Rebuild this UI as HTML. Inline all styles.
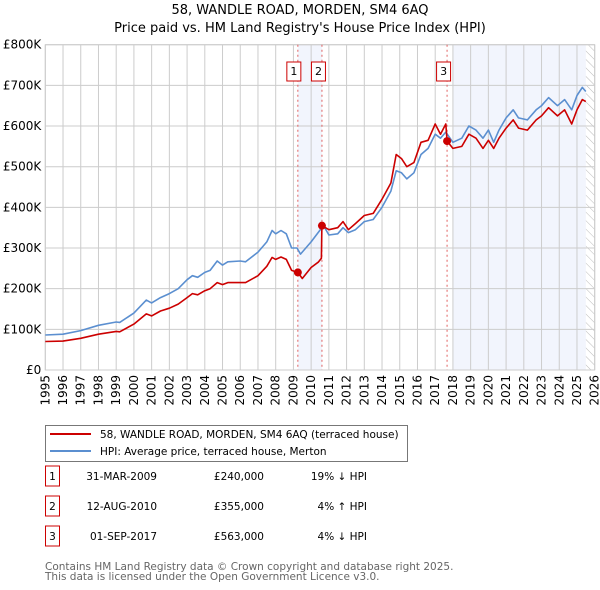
<!DOCTYPE html>
<html><head><meta charset="utf-8"><style>
body{margin:0;background:#fff;font-family:"DejaVu Sans","Liberation Sans",sans-serif;}
#wrap{position:relative;width:600px;height:590px;overflow:hidden;}
</style></head><body>
<div id="wrap">
<svg id="svg" width="600" height="590" xmlns="http://www.w3.org/2000/svg" font-family="DejaVu Sans, Liberation Sans, sans-serif">
<text x="300" y="14" text-anchor="middle" font-size="13" fill="#000">58, WANDLE ROAD, MORDEN, SM4 6AQ</text>
<text x="300" y="32" text-anchor="middle" font-size="13" fill="#000">Price paid vs. HM Land Registry's House Price Index (HPI)</text>
<g id="plot"></g>
<g>
<rect x="45.5" y="425.5" width="362" height="36" fill="#fff" stroke="#777"/>
<line x1="50" y1="434" x2="91" y2="434" stroke="#cc0000" stroke-width="2"/>
<text x="100" y="438" font-size="10.5">58, WANDLE ROAD, MORDEN, SM4 6AQ (terraced house)</text>
<line x1="50" y1="451" x2="91" y2="451" stroke="#5b8fd0" stroke-width="2"/>
<text x="100" y="455" font-size="10.5">HPI: Average price, terraced house, Merton</text>
</g>
<g id="table" font-size="10.5"></g>
<text x="45" y="570" font-size="10.5" fill="#666">Contains HM Land Registry data © Crown copyright and database right 2025.</text>
<text x="45" y="580" font-size="10.5" fill="#666">This data is licensed under the Open Government Licence v3.0.</text>
</svg>
</div>
<script>
const hpiYears=[1995,1996,1997,1998,1999,1999.2,2000,2000.7,2001,2001.5,2002,2002.5,2003,2003.3,2003.6,2004,2004.3,2004.7,2005,2005.3,2006,2006.3,2007,2007.5,2007.8,2008,2008.3,2008.6,2008.9,2009.2,2009.4,2010.0,2010.5,2010.7,2011,2011.5,2011.8,2012.1,2012.5,2013,2013.5,2014,2014.5,2014.8,2015.1,2015.4,2015.8,2016.2,2016.6,2017.0,2017.3,2017.6,2018.0,2018.5,2018.9,2019.3,2019.7,2020.0,2020.3,2020.6,2021.0,2021.4,2021.7,2022.2,2022.7,2023.0,2023.4,2023.9,2024.3,2024.7,2025.0,2025.3,2025.5];
const hpiValues=[86,88,97,110,118,117,140,172,165,178,188,200,222,232,228,240,245,268,258,266,268,266,290,315,343,335,343,335,300,300,285,315,344,355,332,335,350,338,345,365,370,400,440,490,485,470,485,530,545,580,570,585,560,570,600,590,570,590,560,590,620,640,620,615,640,650,670,650,665,640,675,695,685];
const ppYears=[1995,1996,1997,1998,1999,1999.2,2000,2000.7,2001,2001.5,2002,2002.5,2003,2003.3,2003.6,2004,2004.3,2004.7,2005,2005.3,2006,2006.3,2007,2007.5,2007.8,2008,2008.3,2008.6,2008.9,2009.25,2009.5,2010.0,2010.4,2010.58,2010.61,2011,2011.5,2011.8,2012.1,2012.5,2013,2013.5,2014,2014.5,2014.8,2015.1,2015.4,2015.8,2016.2,2016.6,2017.0,2017.3,2017.6,2017.67,2018.0,2018.5,2018.9,2019.3,2019.7,2020.0,2020.3,2020.6,2021.0,2021.4,2021.7,2022.2,2022.7,2023.0,2023.4,2023.9,2024.3,2024.7,2025.0,2025.3,2025.5];
const ppValues=[70,71,78,88,95,94,113,138,133,145,152,162,178,188,185,195,200,215,210,215,215,215,232,255,277,272,278,272,245,240,225,252,265,275,355,345,350,365,345,360,380,385,420,460,530,520,500,510,560,565,605,580,605,563,545,550,580,570,545,565,545,570,595,615,595,590,615,625,645,625,640,605,640,665,660];
const saleLabels=["1","2","3"];
const saleYears=[2009.25,2010.61,2017.67];
const saleValues=[240,355,563];
const saleDates=["31-MAR-2009","12-AUG-2010","01-SEP-2017"];
const salePrices=["£240,000","£355,000","£563,000"];
const saleDiffs=["19% ↓ HPI","4% ↑ HPI","4% ↓ HPI"];
const yTicks=[0,100,200,300,400,500,600,700,800];
const yTickLabels=["£0","£100K","£200K","£300K","£400K","£500K","£600K","£700K","£800K"];
const xTicks=[1995,1996,1997,1998,1999,2000,2001,2002,2003,2004,2005,2006,2007,2008,2009,2010,2011,2012,2013,2014,2015,2016,2017,2018,2019,2020,2021,2022,2023,2024,2025,2026];

const NS="http://www.w3.org/2000/svg";
const X0=45.3,X1=594.7,Y0=370,Y1=44.7;
const xs=y=>X0+(y-1995)/31*(X1-X0);
const ys=v=>Y0-v/800*(Y0-Y1);
const plot=document.getElementById('plot');
function mk(tag,attrs,parent){const e=document.createElementNS(NS,tag);for(const k in attrs)e.setAttribute(k,attrs[k]);(parent||plot).appendChild(e);return e;}
let s=mk('rect',{x:xs(saleYears[0]),y:Y1,width:xs(saleYears[1])-xs(saleYears[0]),height:Y0-Y1,fill:'#f2f5fd'});


s=mk('rect',{x:xs(2018),y:Y1,width:xs(2025.5)-xs(2018),height:Y0-Y1,fill:'#f2f5fd'});


const defs=mk('defs',{});
const pat=mk('pattern',{id:'hatch',width:6,height:6,patternUnits:'userSpaceOnUse',patternTransform:'rotate(-45)'},defs);
mk('line',{x1:0,y1:0,x2:0,y2:6,stroke:'#bbb','stroke-width':1},pat);
s=mk('rect',{x:xs(2025.5),y:Y1,width:X1-xs(2025.5),height:Y0-Y1,fill:'url(#hatch)'});


yTicks.forEach((t,i)=>{
 const l=mk('line',{x1:X0,x2:X1,y1:ys(t),y2:ys(t),stroke:'#ccc','stroke-width':1});
 
 
 const tx=mk('text',{x:X0-4,y:ys(t)+4,'text-anchor':'end','font-size':12});
 tx.textContent=yTickLabels[i];
 
 
});
xTicks.forEach(t=>{
 const l=mk('line',{x1:xs(t),x2:xs(t),y1:Y1,y2:Y0,stroke:'#ccc','stroke-width':1});
 
 
 const tx=mk('text',{x:0,y:0,'text-anchor':'end','font-size':12,transform:`translate(${xs(t)+4},${Y0+5}) rotate(-90)`});
 tx.textContent=t;
 
 
});
let b=mk('rect',{x:X0,y:Y1,width:X1-X0,height:Y0-Y1,fill:'none',stroke:'#ccc'});


saleYears.forEach((y,i)=>{
 const l=mk('line',{x1:xs(y),x2:xs(y),y1:Y1,y2:Y0,stroke:'#e06060','stroke-width':1,'stroke-dasharray':'2,3'});
 
 
});
function path(xa,va,color,name){
 const d=xa.map((x,i)=>(i?'L':'M')+xs(x).toFixed(1)+','+ys(va[i]).toFixed(1)).join('');
 const p=mk('path',{d:d,fill:'none',stroke:color,'stroke-width':1.6,'stroke-linejoin':'round'});
 
 
}
path(hpiYears,hpiValues,'#5b8fd0','hpi-line');
path(ppYears,ppValues,'#cc0000','price-paid-line');
const boxOff=[-11,-10.5,-10.5];
saleYears.forEach((y,i)=>{
 const c=mk('circle',{cx:xs(y),cy:ys(saleValues[i]),r:4,fill:'#cc0000'});
 
 
 const g=mk('g',{});
 
 
 const bx=xs(y)+boxOff[i];
 mk('rect',{x:bx,y:62,width:14,height:19,fill:'#fff',stroke:'#cc0000'},g);
 const t=mk('text',{x:bx+7,y:75,'text-anchor':'middle','font-size':11},g);
 t.textContent=saleLabels[i];
});
const tb=document.getElementById('table');
saleLabels.forEach((l,i)=>{
 const y=476+i*30;
 const g=mk('g',{},tb);
 
 
 mk('rect',{x:45.5,y:y-10,width:14,height:20,fill:'#fff',stroke:'#cc0000'},g);
 let t=mk('text',{x:52.5,y:y+4,'text-anchor':'middle'},g);t.textContent=l;
 t=mk('text',{x:157,y:y+4,'text-anchor':'end'},g);t.textContent=saleDates[i];
 t=mk('text',{x:264,y:y+4,'text-anchor':'end'},g);t.textContent=salePrices[i];
 t=mk('text',{x:367,y:y+4,'text-anchor':'end'},g);t.textContent=saleDiffs[i];
});
</script>
</body></html>
